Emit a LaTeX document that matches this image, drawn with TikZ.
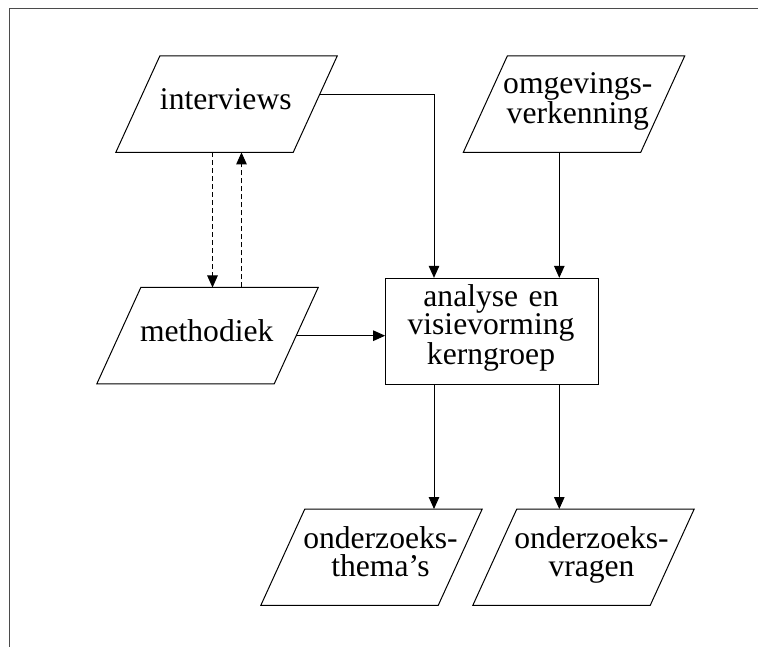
\documentclass[tikz,border=0pt]{standalone}
\usepackage{fontspec}
\setmainfont{Liberation Serif}
\usetikzlibrary{arrows.meta,calc}
\newcommand{\paraoutline}[2][22pt]{%
  \draw[shapeline] ([xshift=#1]#2.north west) -- ([xshift=#1]#2.north east)
    -- ([xshift=-#1]#2.south east) -- ([xshift=-#1]#2.south west) -- cycle;}
\begin{document}
\begin{tikzpicture}[x=1pt,y=-1pt,
  shapeline/.style={line width=1pt,black},
  parabox/.style={rectangle,inner sep=0pt,minimum width=177pt,minimum height=96pt},
  mainbox/.style={rectangle,draw,line width=1pt,inner sep=0pt,minimum width=213.3pt,minimum height=105.7pt},
  lbl/.style={inner sep=0pt,anchor=base,text width=220pt,align=center,
    font=\fontsize{31.6}{28.3}\selectfont},
  conn/.style={line width=1pt,-{Triangle[length=12pt,width=10.5pt]}},
  dconn/.style={conn,dash pattern=on 5pt off 3pt},
  framel/.style={line width=1.5pt,color={rgb,255:red,75;green,75;blue,75}}]
\useasboundingbox (0,0) rectangle (758,647);
% frame
\coordinate (fr) at (9.3,8.3);
\draw[framel] (758,8.3) -- (fr) -- (9.3,647);
% shapes
\node[parabox] (int) at (226.5,104.2) {};
\node[parabox] (omg) at (574,104.2) {};
\node[parabox] (met) at (207.5,335.7) {};
\node[parabox] (the) at (371.5,557.2) {};
\node[parabox] (vra) at (583.5,557.2) {};
\node[mainbox] (box) at (492.3,331.2) {};
\paraoutline{int}
\paraoutline{omg}
\paraoutline{met}
\paraoutline{the}
\paraoutline{vra}
% texts
\node[lbl] (int-t) at (225.8,110) {interviews};
\node[lbl] (omg-t) at (577.8,93.3) {omgevings-\\verkenning\hspace*{23pt}};
\node[lbl] (met-t) at (206.7,341.7) {methodiek};
\node[lbl] (box-t) at (491,306.7) {analyse en\\visievorming\\kerngroep};
\node[lbl] (the-t) at (380.5,548.3) {onderzoeks-\\thema’s};
\node[lbl] (vra-t) at (591.5,548.3) {onderzoeks-\\vragen};
% helper coordinates
\coordinate (b1) at ([xshift=-58.3pt]box.north);
\coordinate (b2) at ([xshift=67pt]box.north);
\coordinate (i1) at ($(int.east)+(4.2,-9.2)$);
\coordinate (d1) at ([xshift=-14pt]int.south);
\coordinate (d2) at ([xshift=15pt]int.south);
% connectors
\draw[conn] (i1) -- (i1 -| b1) -- (b1);
\draw[conn] (b2 |- omg.south) -- (b2);
\draw[conn] (met.east) -- (met.east -| box.west);
\draw[dconn] (d1) -- (d1 |- met.north);
\draw[dconn] (d2 |- met.north) -- (d2);
\draw[conn] (b1 |- box.south) -- (b1 |- the.north);
\draw[conn] (b2 |- box.south) -- (b2 |- vra.north);
\end{tikzpicture}
\end{document}
